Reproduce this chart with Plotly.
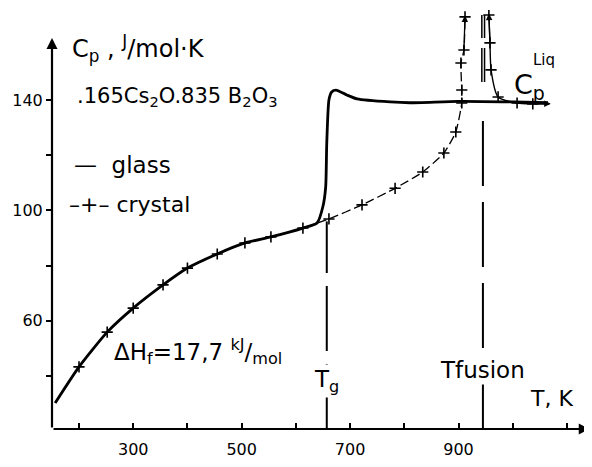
import plotly.graph_objects as go

# ---- data ----
glass_T = [156, 200, 252, 300, 355, 400, 455, 506, 554, 613, 639, 650, 655, 657, 661, 666, 674, 694, 713, 774, 810, 900, 1000, 1065]
glass_Cp = [30.2, 43.3, 55.9, 64.6, 73.0, 79.1, 84.2, 88.2, 90.4, 93.6, 95.4, 101.5, 108.5, 124.4, 140.0, 142.9, 143.6, 141.8, 140.4, 139.3, 139.0, 139.5, 139.3, 139.0]

crystal_T = [200, 252, 300, 355, 400, 455, 506, 554, 613, 661, 722, 783, 834, 873, 895, 906, 906, 904.5, 910, 912]
crystal_Cp = [43.3, 55.9, 64.6, 73.0, 79.1, 84.2, 88.2, 90.4, 93.6, 96.9, 102.0, 108.0, 113.9, 120.8, 128.4, 138.9, 143.6, 153.4, 158.1, 170.1]

liquid_T = [956, 958, 960, 973, 1008, 1037]
liquid_Cp = [170.8, 160.7, 150.9, 141.1, 138.9, 138.6]
liquid_end = [1068, 138.6]

T_g = 657
T_fusion = 945

x_tickvals = [200, 300, 400, 500, 600, 700, 800, 900, 1000, 1100]
x_ticktext = ["", "300", "", "500", "", "700", "", "900", "", ""]
y_tickvals = [40, 60, 80, 100, 120, 140]
y_ticktext = ["", "60", "", "100", "", "140"]

X_RANGE = [150.2, 1142.5]
Y_RANGE = [20.8, 172.6]

FONT = "DejaVu Sans"
fig = go.Figure()

# glass
fig.add_trace(go.Scatter(x=glass_T, y=glass_Cp, mode="lines",
                         line=dict(color="black", width=2.8, shape="spline", smoothing=0.6),
                         hoverinfo="skip"))
# crystal
fig.add_trace(go.Scatter(x=crystal_T, y=crystal_Cp, mode="lines+markers",
                         line=dict(color="black", width=1.3, dash="9px,4px", shape="spline", smoothing=0.5),
                         marker=dict(symbol="cross-thin", size=8, line=dict(color="black", width=1.6)),
                         hoverinfo="skip"))
# liquid
fig.add_trace(go.Scatter(x=liquid_T + [liquid_end[0]], y=liquid_Cp + [liquid_end[1]], mode="lines",
                         line=dict(color="black", width=1.4, shape="spline", smoothing=0.6),
                         hoverinfo="skip"))
fig.add_trace(go.Scatter(x=liquid_T, y=liquid_Cp, mode="markers",
                         marker=dict(symbol="cross-thin", size=8, line=dict(color="black", width=1.6)),
                         hoverinfo="skip"))

# Tg dashed line
fig.add_trace(go.Scatter(x=[T_g, T_g], y=[Y_RANGE[0], 96], mode="lines",
                         line=dict(color="black", width=2, dash="65px,13px"), hoverinfo="skip"))
# Tfusion dashed line (lower part)
fig.add_trace(go.Scatter(x=[T_fusion, T_fusion], y=[Y_RANGE[0], 134.6], mode="lines",
                         line=dict(color="black", width=2, dash="65px,16px"), hoverinfo="skip"))
# Tfusion doubled upper part
for dx in (-2, 3):
    fig.add_trace(go.Scatter(x=[T_fusion + dx, T_fusion + dx], y=[170.8, 146.5], mode="lines",
                             line=dict(color="black", width=1.5, dash="23px,10px,40px"), hoverinfo="skip"))

ann = []
def arrow(x, y, ax, ay, w):
    ann.append(dict(x=x, y=y, ax=ax, ay=ay, xref="x", yref="y", axref="x", ayref="y",
                    text="", showarrow=True, arrowhead=2, arrowsize=1, arrowwidth=w,
                    arrowcolor="black", standoff=0, startstandoff=0))

# axes with arrows
arrow(X_RANGE[1] - 0.5, Y_RANGE[0], X_RANGE[0], Y_RANGE[0], 2.2)
arrow(X_RANGE[0], 162.5, X_RANGE[0], Y_RANGE[0], 2.2)
# curve arrows
arrow(crystal_T[-1], crystal_Cp[-1] + 0.5, crystal_T[-2], crystal_Cp[-2], 1.3)
arrow(liquid_T[0], liquid_Cp[0] + 0.5, liquid_T[1], liquid_Cp[1], 1.3)
arrow(liquid_end[0] + 2, liquid_end[1], liquid_T[-1], liquid_Cp[-1], 1.3)

def txt(x, y, s, size, xanchor="left", bg=None):
    d = dict(x=x, y=y, xref="x", yref="y", text=s, showarrow=False, xanchor=xanchor,
             yanchor="middle", font=dict(family=FONT, size=size, color="black"))
    if bg:
        d["bgcolor"] = bg
    ann.append(d)

txt(183, 158.8, "C<sub>p</sub> , <sup>J</sup>/mol·K", 24)
txt(192, 141.1, ".165Cs<sub>2</sub>O.835 B<sub>2</sub>O<sub>3</sub>", 21)
txt(188, 116.4, "—  glass", 23)
txt(178, 102.0, "–+– crystal", 22)
txt(261, 48.7, "ΔH<sub>f</sub>=17,7 <sup>kJ</sup>/<sub>mol</sub>", 23)
txt(T_g, 38.2, "T<sub>g</sub>", 23, "center", "white")
txt(T_fusion, 42.2, "Tfusion", 23, "center", "white")
txt(1072, 32.0, "T, K", 22, "center")
txt(1030, 145.0, "C<sub>p</sub>", 27, "center")
txt(1058, 154.5, "Liq", 15, "center")

# the page body adds an 8px offset; margins compensate so the plot area sits where the reference has it
fig.update_layout(
    width=592, height=467,
    margin=dict(l=44, r=10, t=2, b=46, autoexpand=False),
    paper_bgcolor="white", plot_bgcolor="white",
    showlegend=False,
    annotations=ann,
    xaxis=dict(range=X_RANGE, showgrid=False, zeroline=False, showline=False,
               tickvals=x_tickvals, ticktext=x_ticktext, ticks="inside", ticklen=6,
               tickwidth=1.5, tickcolor="black", automargin=False, ticklabelstandoff=9,
               tickfont=dict(family=FONT, size=16, color="black")),
    yaxis=dict(range=Y_RANGE, showgrid=False, zeroline=False, showline=False,
               tickvals=y_tickvals, ticktext=y_ticktext, ticks="outside", ticklen=5,
               tickwidth=1.5, tickcolor="black", automargin=False,
               tickfont=dict(family=FONT, size=16, color="black")),
)

fig.write_html("out.html")
